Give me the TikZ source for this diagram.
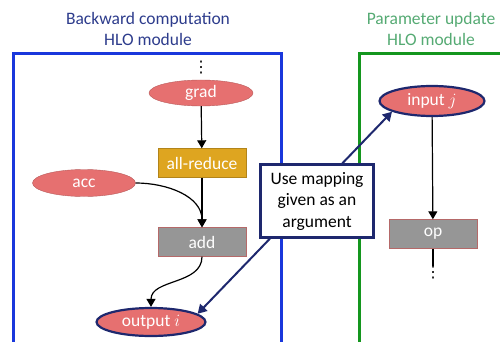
\documentclass[tikz,border=0pt]{standalone}
\usepackage{fontspec}
\setmainfont{Carlito}
\newfontfamily\dejavu{DejaVu Sans}
\usetikzlibrary{arrows.meta,shapes.geometric}
\definecolor{titleblue}{RGB}{45,60,140}
\definecolor{titlegreen}{RGB}{85,170,115}
\definecolor{boxblue}{RGB}{25,55,220}
\definecolor{boxgreen}{RGB}{20,150,30}
\definecolor{navy}{RGB}{30,40,110}
\definecolor{salmon}{RGB}{230,112,112}
\definecolor{gold}{RGB}{222,165,32}
\definecolor{opgray}{RGB}{150,150,150}

\begin{document}
\begin{tikzpicture}[x=1pt,y=-1pt,node distance=79pt]
\useasboundingbox (0,0) rectangle (500,342);
\clip (0,0) rectangle (500,342);

\tikzstyle{txt} = [font=\fontsize{17.5}{21.5}\selectfont]
\tikzstyle{dts} = [font=\dejavu\fontsize{16}{16}\selectfont,inner sep=0pt]
\tikzstyle{el} = [txt,ellipse,inner sep=0pt,fill=salmon,draw=salmon!80!black,text=white]
\tikzstyle{elb} = [el,draw=navy,line width=2.2pt]
\tikzstyle{sq} = [txt,rectangle,inner sep=0pt,minimum width=88pt,minimum height=29pt,text=white]
\tikzstyle{ar} = [-{Triangle[length=8pt,width=9pt]},line width=1.2pt]

% module frames
\draw[boxblue,line width=3pt] (13,54) rectangle (281,360);
\draw[boxgreen,line width=3pt] (359,54) rectangle (520,360);
\node (bwtitle) [txt,align=center,text=titleblue] at (148,29) {Backward computation\\HLO module};
\node (putitle) [txt,align=center,text=titlegreen] at (431,29) {Parameter update\\HLO module};

% backward computation
\node (dotsa) [dts] at (201,68) {⋮};
\node (grad) [el,minimum width=104pt,minimum height=26pt] at (201,93) {grad};
\node (red) [sq,fill=gold,draw=gold!80!black] at (202,163) {all-reduce};
\node (add) [sq,fill=opgray,draw=opgray!70!red,below of=red] {add};
\node (acc) [el,minimum width=103pt,minimum height=27pt] at (84,183) {acc};
\node (outi) [elb,minimum width=109pt,minimum height=28pt] at (151,322) {output $i$};
\draw[ar] (grad) -- (red);
\draw[ar] (red) -- (add);
\draw[ar] (acc.east) to[out=0,in=90] (add.north);
\draw[ar] (add.south) to[out=-90,in=90] (outi.north);

% parameter update
\node (inj) [elb,minimum width=105pt,minimum height=30pt] at (432,101) {input $j$};
\node (op) [sq,fill=opgray,draw=opgray!70!red] at (433,234) {op};
\node (dotsb) [dts] at (433,273) {⋮};
\draw[ar] (inj) -- (op);
\draw[line width=1.2pt] (op.south) -- (dotsb.north);

% mapping
\draw[{Triangle[length=9pt,width=10pt]}-{Triangle[length=9pt,width=10pt]},navy,line width=2pt] (outi.10) -- (inj.195);
\node (map) [txt,align=center,fill=white,draw=navy,line width=2.2pt,minimum width=113pt,minimum height=73pt,inner sep=2pt] at (317,201) {Use mapping\\given as an\\argument};
\end{tikzpicture}
\end{document}
